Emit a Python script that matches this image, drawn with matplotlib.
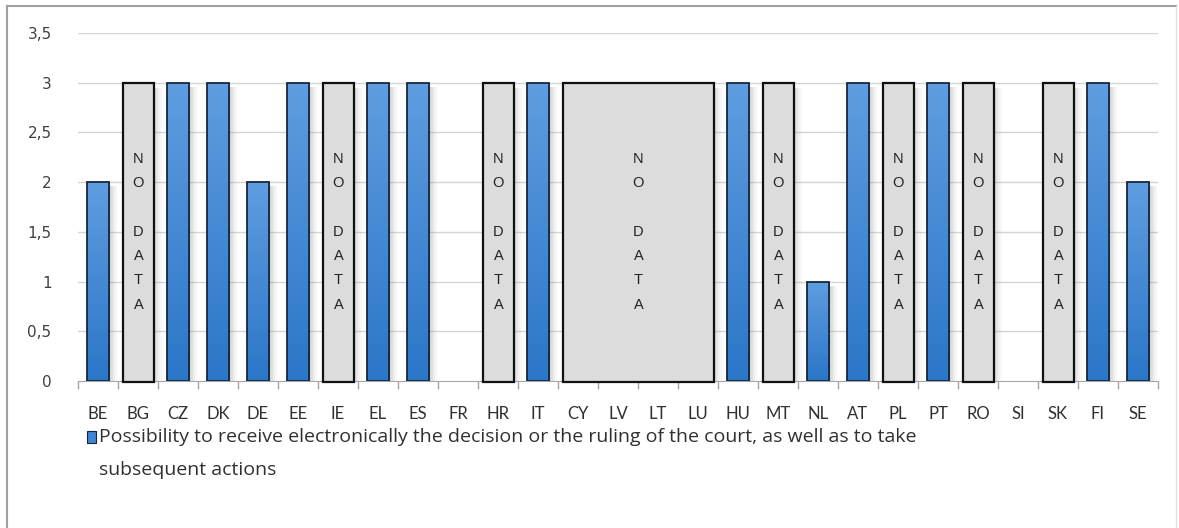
import numpy as np
import matplotlib
matplotlib.use("Agg")
import matplotlib.pyplot as plt
from matplotlib.patches import Rectangle
from matplotlib.lines import Line2D

countries = ["BE", "BG", "CZ", "DK", "DE", "EE", "IE", "EL", "ES", "FR", "HR", "IT", "CY", "LV",
             "LT", "LU", "HU", "MT", "NL", "AT", "PL", "PT", "RO", "SI", "SK", "FI", "SE"]
nan = np.nan
# nan = no data
values = [2, nan, 3, 3, 2, 3, nan, 3, 3, 0, nan, 3, nan, nan,
          nan, nan, 3, nan, 1, 3, nan, 3, nan, 0, nan, 3, 2]
yticks = [0, 0.5, 1, 1.5, 2, 2.5, 3, 3.5]
ytick_labels = ["0", "0,5", "1", "1,5", "2", "2,5", "3", "3,5"]
legend_text = ("Possibility to receive electronically the decision or the ruling of the court, as well as to take\n"
               "subsequent actions")
nodata_height = 3.0

W, H = 1179, 528
fig = plt.figure(figsize=(W / 100, H / 100), dpi=100)
ax = fig.add_axes([78 / W, 1 - 381 / H, 1080 / W, 348 / H])

n = len(countries)
x = np.arange(n)
ax.set_xlim(-0.5, n - 0.5)
ax.set_ylim(0, 3.5)

# grid
for t in yticks[1:]:
    ax.axhline(t, color="#d4d4d4", lw=1, zorder=0)

# gradient for blue bars
grad = np.linspace(0, 1, 100).reshape(-1, 1)
cmap = matplotlib.colors.LinearSegmentedColormap.from_list("b", ["#2c76c8", "#5e9de0"])

bw = 0.57
for i, v in enumerate(values):
    if np.isnan(v) or v <= 0:
        continue
    # soft shadow on the right side
    for k, a in enumerate([0.35, 0.24, 0.14, 0.06]):
        ax.add_patch(Rectangle((i + bw / 2 + k * 0.05, 0), 0.05, v - 0.04,
                               facecolor="#808080", alpha=a, lw=0, zorder=1))
    r = Rectangle((i - bw / 2, 0), bw, v, facecolor="none", edgecolor="#16263a", lw=1.3, zorder=3)
    ax.add_patch(r)
    im = ax.imshow(grad, extent=(i - bw / 2, i + bw / 2, 0, v), origin="lower", cmap=cmap,
                   aspect="auto", zorder=2)
    im.set_clip_path(r)

# no-data boxes (consecutive missing countries are grouped)
groups = []
i = 0
while i < n:
    if np.isnan(values[i]):
        j = i
        while j + 1 < n and np.isnan(values[j + 1]):
            j += 1
        groups.append((i, j))
        i = j + 1
    else:
        i += 1

for a, b in groups:
    left, right = a - 0.37, b + 0.39
    for k, al in enumerate([0.3, 0.2, 0.11, 0.05]):
        ax.add_patch(Rectangle((right + k * 0.05, 0), 0.05, nodata_height - 0.05,
                               facecolor="#808080", alpha=al, lw=0, zorder=1))
    ax.add_patch(Rectangle((left, -0.01), right - left, nodata_height + 0.01, facecolor="#dcdcdc",
                           edgecolor="#111111", lw=1.6, zorder=4, clip_on=False))
    ax.text((left + right) / 2, 1.5, "N\nO\n\nD\nA\nT\nA", ha="center", va="center",
            fontsize=10.5, family="Liberation Sans", color="#222222", linespacing=1.93, zorder=5)

for s in ["left", "right", "top"]:
    ax.spines[s].set_visible(False)
ax.spines["bottom"].set_color("#a6a6a6")
ax.spines["bottom"].set_zorder(0)

ax.set_yticks(yticks)
ax.set_yticklabels(ytick_labels, family="DejaVu Sans", fontsize=11, color="#404040")
ax.tick_params(axis="y", length=0, pad=19)

ax.set_xticks(x)
ax.set_xticklabels(countries, family="Lato", fontsize=12, color="#303030")
ax.tick_params(axis="x", length=0, pad=18)
ax.set_xticks(np.arange(n + 1) - 0.5, minor=True)
ax.tick_params(axis="x", which="minor", length=6, color="#a6a6a6", width=1)

# legend
fig.add_artist(Rectangle((87 / W, 1 - 443 / H), 9 / W, 12 / H, transform=fig.transFigure,
                         facecolor="#3f86d4", edgecolor="#16263a", lw=0.8))
for k, line in enumerate(legend_text.split("\n")):
    fig.text(99 / W, 1 - (437 + 33 * k) / H, line, ha="left", va="center", family="Open Sans",
             fontsize=14, color="#303030")

# outer chart frame
fig.add_artist(Line2D([7 / W, 7 / W], [0, 1 - 6 / H], transform=fig.transFigure, color="#a0a0a0", lw=1.5))
fig.add_artist(Line2D([7 / W, 1176 / W], [1 - 6 / H, 1 - 6 / H], transform=fig.transFigure,
                      color="#a0a0a0", lw=1.5))
fig.add_artist(Line2D([1176 / W, 1176 / W], [0, 1 - 6 / H], transform=fig.transFigure,
                      color="#e0e0e0", lw=1))

fig.savefig("out.png", dpi=100)
